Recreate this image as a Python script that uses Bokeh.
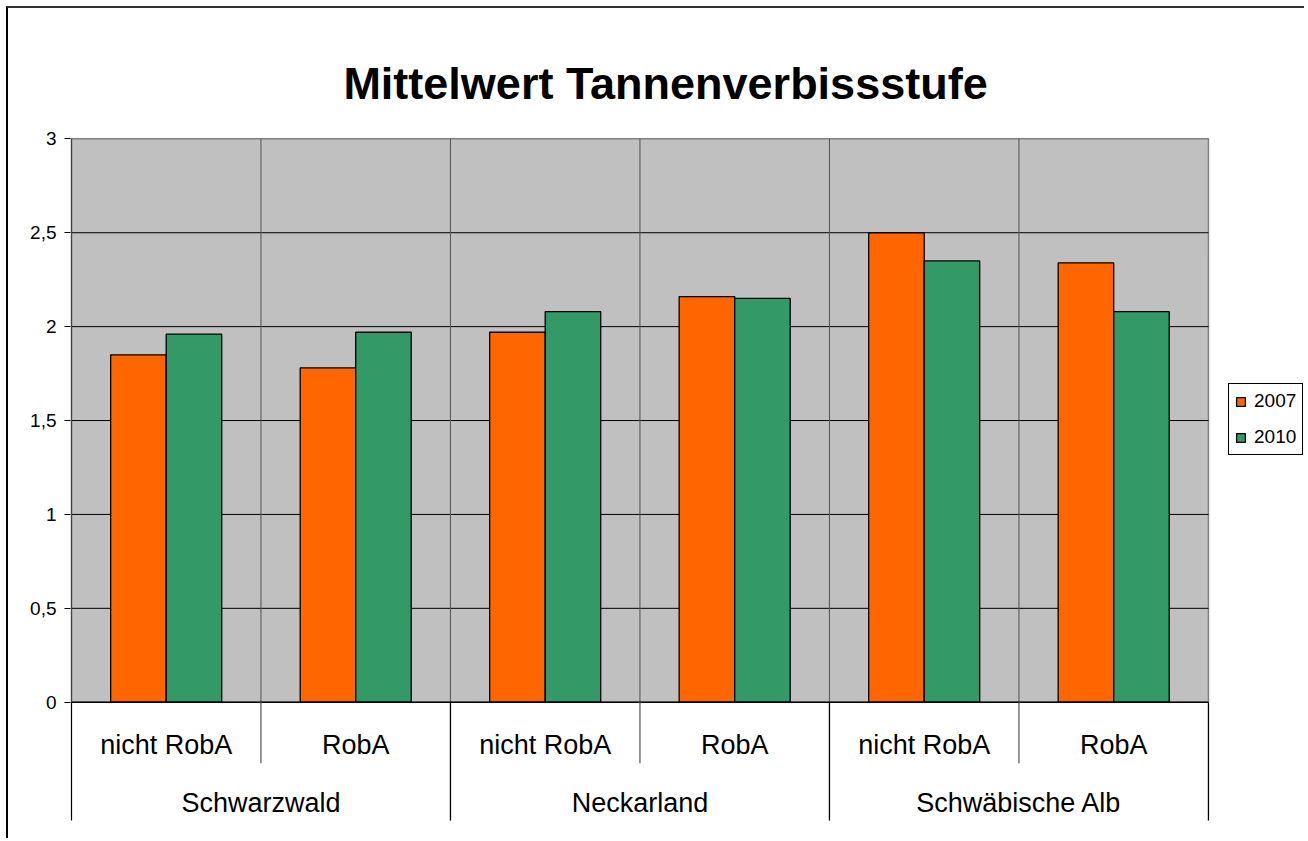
import numpy as np
from bokeh.plotting import figure
from bokeh.models import Range1d, FixedTicker, Legend, LegendItem
from bokeh.core.properties import value
from bokeh.embed import file_html
from bokeh.resources import INLINE

regions = ["Schwarzwald", "Neckarland", "Schwäbische Alb"]
subgroups = ["nicht RobA", "RobA"]
years = ["2007", "2010"]
v2007 = [1.85, 1.78, 1.97, 2.16, 2.50, 2.34]
v2010 = [1.96, 1.97, 2.08, 2.15, 2.35, 2.08]
y_ticks = [0, 0.5, 1, 1.5, 2, 2.5, 3]
y_tick_labels = ["0", "0,5", "1", "1,5", "2", "2,5", "3"]
title = "Mittelwert Tannenverbissstufe"

FONT = "Liberation Sans"
ORANGE = "#FF6600"
GREEN = "#339966"

n = len(v2007)
ncat = n
xs = np.arange(n) + 0.5
ymax = 3.0

# scales: 189.5 px per category, 187.8 px per unit
W, H = 1298, 832
left_border = 62
x0 = -0.005
x1 = x0 + (W - left_border) / 189.5
y_top = 3.694
y_bot = y_top - H / 187.8

p = figure(width=W, height=H,
           x_range=Range1d(x0, x1), y_range=Range1d(y_bot, y_top),
           output_backend="svg", toolbar_location=None,
           x_axis_location=None,
           min_border_left=left_border, min_border_right=0,
           min_border_top=0, min_border_bottom=0)
p.styles = {"margin-left": "6px", "margin-top": "6px",
            "border-top": "2px solid #333333", "border-left": "2px solid #000000"}
p.outline_line_color = None
p.xgrid.visible = False
p.ygrid.visible = False

# title
p.text(x=[3.135], y=[3.294], text=[title], text_align="center",
       text_baseline="alphabetic", text_font=value(FONT),
       text_font_size="45px", text_font_style="bold", text_color="black")

# plot area
p.quad(left=[0], right=[ncat], bottom=[0], top=[ymax],
       fill_color="#C0C0C0", line_color="#808080", line_width=1.5)
# horizontal gridlines
hg = [t for t in y_ticks if 0 < t < ymax]
p.segment(x0=[0] * len(hg), x1=[ncat] * len(hg), y0=hg, y1=hg,
          line_color="black", line_width=1)
# vertical category gridlines
vg = list(range(1, ncat))
p.segment(x0=vg, x1=vg, y0=[0] * len(vg), y1=[ymax] * len(vg),
          line_color="#505050", line_width=1)

bw = 0.293
r1 = p.vbar(x=xs - bw / 2, top=v2007, width=bw, bottom=0,
            fill_color=ORANGE, line_color="black", line_width=1.3)
r2 = p.vbar(x=xs + bw / 2, top=v2010, width=bw, bottom=0,
            fill_color=GREEN, line_color="black", line_width=1.3)

# axis lines
p.segment(x0=[0], x1=[ncat], y0=[0], y1=[0], line_color="black", line_width=1.3)
p.segment(x0=[0], x1=[0], y0=[0], y1=[ymax], line_color="#404040", line_width=1.3)

# category separators below axis
sub_sep = [1, 3, 5]
p.segment(x0=sub_sep, x1=sub_sep, y0=[0] * 3, y1=[-0.325] * 3,
          line_color="#606060", line_width=1.3)
grp_sep = [0, 2, 4, 6]
p.segment(x0=grp_sep, x1=grp_sep, y0=[0] * 4, y1=[-0.63] * 4,
          line_color="black", line_width=1.3)

# category labels
sub_labels = [subgroups[i % 2] for i in range(n)]
p.text(x=xs, y=[-0.228] * n, text=sub_labels, text_align="center",
       text_baseline="middle", text_font=value(FONT), text_font_size="27px",
       text_color="black")
gx = [1, 3, 5]
p.text(x=gx, y=[-0.535] * 3, text=regions, text_align="center",
       text_baseline="middle", text_font=value(FONT), text_font_size="27px",
       text_color="black")

# y axis
ax = p.yaxis[0]
ax.ticker = FixedTicker(ticks=y_ticks)
ax.major_label_overrides = {(int(t) if float(t).is_integer() else t): l
                            for t, l in zip(y_ticks, y_tick_labels)}
ax.axis_line_color = None
ax.major_tick_in = 0
ax.major_tick_out = 6
ax.major_tick_line_color = "black"
ax.minor_tick_line_color = None
ax.major_label_standoff = 8
ax.major_label_text_font = FONT
ax.major_label_text_font_size = "19px"
ax.major_label_text_color = "black"

legend = Legend(items=[LegendItem(label=years[0], renderers=[r1]),
                       LegendItem(label=years[1], renderers=[r2])],
                location=(1158, 385))
legend.border_line_color = "black"
legend.border_line_alpha = 1
legend.border_line_width = 1
legend.background_fill_color = "white"
legend.background_fill_alpha = 1
legend.label_text_font = FONT
legend.label_text_font_size = "19px"
legend.label_text_color = "black"
legend.glyph_width = 11
legend.glyph_height = 11
legend.label_height = 20
legend.label_standoff = 8
legend.spacing = 14
legend.padding = 6
legend.margin = 0
p.add_layout(legend)

open("out.html", "w").write(file_html(p, INLINE))
